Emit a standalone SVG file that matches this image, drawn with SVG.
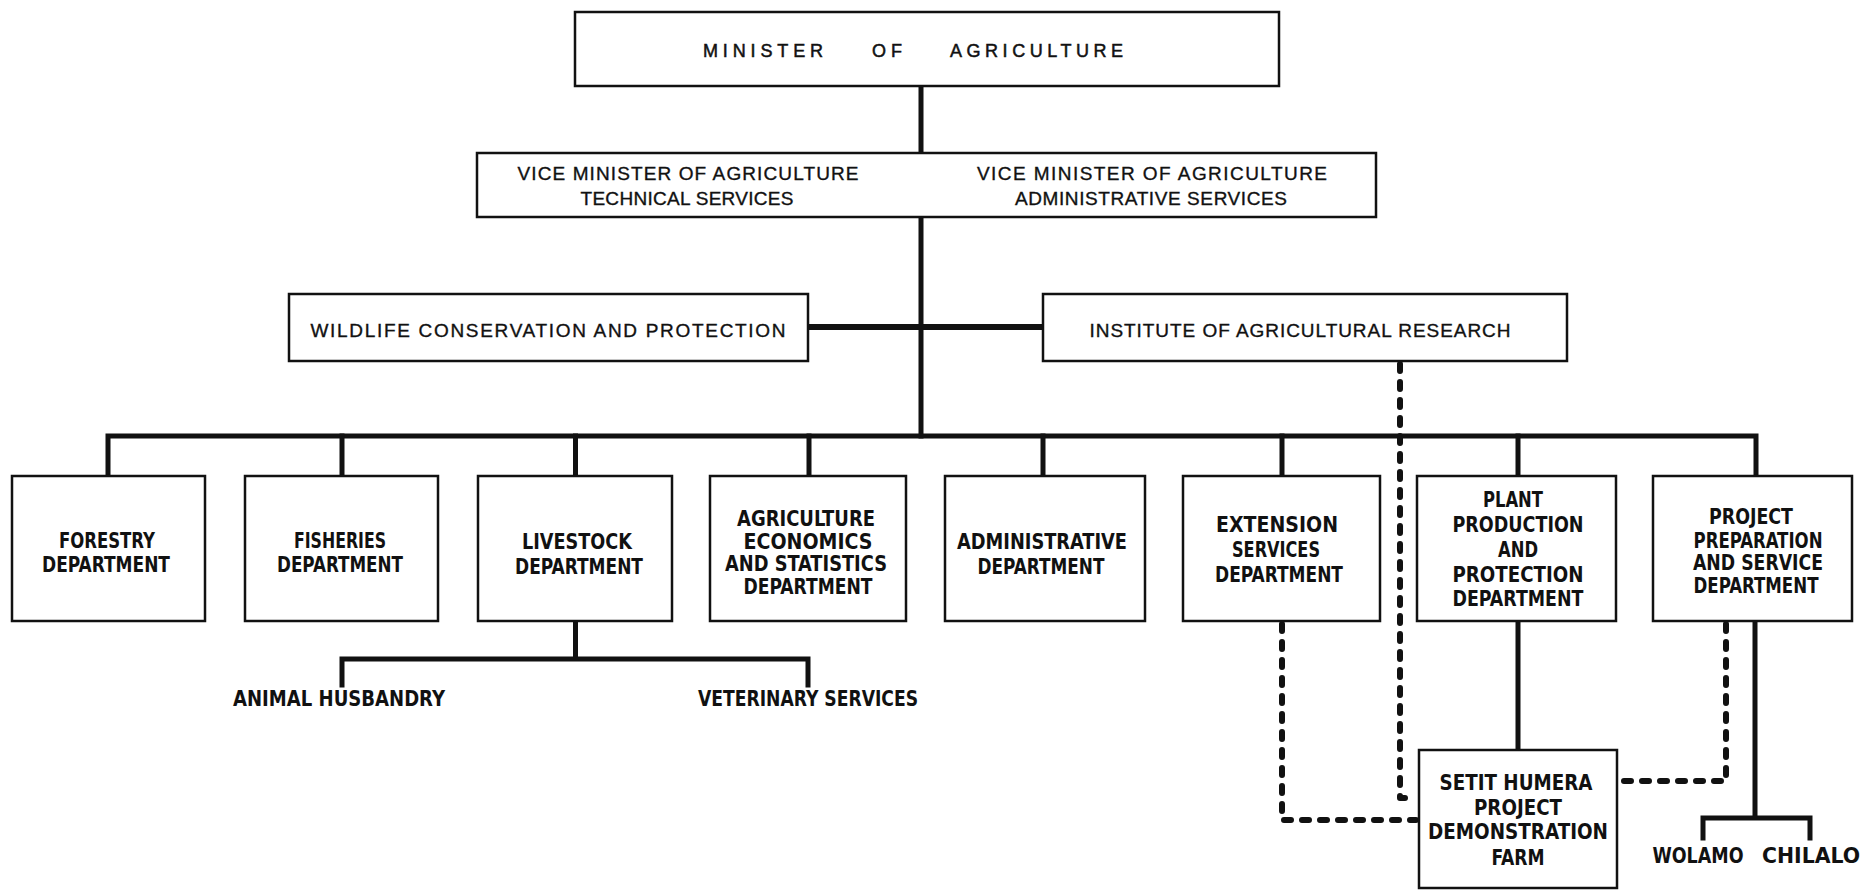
<svg xmlns="http://www.w3.org/2000/svg" width="1864" height="891" viewBox="0 0 1864 891">
<style>
.bx{fill:#fff;stroke:#111;stroke-width:2.5}
.t1{font-family:"Liberation Sans",Arial,sans-serif;font-size:19px;fill:#111;stroke:#111;stroke-width:0.35;text-anchor:middle}
.t0{font-family:"Liberation Sans",Arial,sans-serif;font-size:18px;fill:#111;stroke:#111;stroke-width:0.5;text-anchor:start}
.t2{font-family:"Liberation Sans Narrow","DejaVu Sans Condensed","Liberation Sans",Arial,sans-serif;font-weight:bold;font-size:21px;fill:#111;text-anchor:middle}
.c{fill:none;stroke:#111;stroke-width:5;stroke-linejoin:miter;stroke-linecap:square}
.d{fill:none;stroke:#111;stroke-width:6;stroke-dasharray:7 11;stroke-linecap:round;stroke-linejoin:round}
.dv{fill:none;stroke:#111;stroke-width:3;stroke-dasharray:8 4}
</style>
<rect width="1864" height="891" fill="#fff"/>
<g id="connectors">
<path class="c" d="M921 86V152M921 218V436"/>
<path class="dv" d="M921 152V218"/>
<path class="c" d="M810 327H1043" style="stroke-width:6"/>
<path class="c" d="M108 476V436H1756V476"/>
<path class="c" d="M342 436V476M575.5 436V476M809 436V476M1043 436V476M1282 436V476M1518 436V476"/>
<path class="c" d="M575.5 621V659M342 685V659H808V685"/>
<path class="c" d="M1518 621V750"/>
<path class="c" d="M1755 621V818M1703 838V818H1810V838"/>
<path class="d" d="M1400 364V798H1416"/>
<path class="d" d="M1282 624V820H1416"/>
<path class="d" d="M1726 624V781H1619"/>
</g>
<g id="minister">
<rect class="bx" x="575" y="12" width="704" height="74"/>
<text class="t0" x="703" y="57" textLength="120" lengthAdjust="spacing">MINISTER</text>
<text class="t0" x="872" y="57" textLength="30" lengthAdjust="spacing">OF</text>
<text class="t0" x="950" y="57" textLength="173" lengthAdjust="spacing">AGRICULTURE</text>
</g>
<g id="vice">
<rect class="bx" x="477" y="153" width="899" height="64"/>
<text class="t1" x="688" y="180" textLength="341" lengthAdjust="spacing">VICE MINISTER OF AGRICULTURE</text>
<text class="t1" x="687" y="205" textLength="213" lengthAdjust="spacing">TECHNICAL SERVICES</text>
<text class="t1" x="1152" y="180" textLength="350" lengthAdjust="spacing">VICE MINISTER OF AGRICULTURE</text>
<text class="t1" x="1151" y="205" textLength="272" lengthAdjust="spacing">ADMINISTRATIVE SERVICES</text>
</g>
<g id="wildlife">
<rect class="bx" x="289" y="294" width="519" height="67"/>
<text class="t1" x="548" y="337" textLength="475" lengthAdjust="spacing">WILDLIFE CONSERVATION AND PROTECTION</text>
</g>
<g id="institute">
<rect class="bx" x="1043" y="294" width="524" height="67"/>
<text class="t1" x="1300" y="337" textLength="421" lengthAdjust="spacing">INSTITUTE OF AGRICULTURAL RESEARCH</text>
</g>
<g id="forestry">
<rect class="bx" x="12" y="476" width="193" height="145"/>
<text class="t2" x="107" y="548" textLength="96" lengthAdjust="spacingAndGlyphs">FORESTRY</text>
<text class="t2" x="106" y="572" textLength="128" lengthAdjust="spacingAndGlyphs">DEPARTMENT</text>
</g>
<g id="fisheries">
<rect class="bx" x="245" y="476" width="193" height="145"/>
<text class="t2" x="340" y="548" textLength="92" lengthAdjust="spacingAndGlyphs">FISHERIES</text>
<text class="t2" x="340" y="572" textLength="126" lengthAdjust="spacingAndGlyphs">DEPARTMENT</text>
</g>
<g id="livestock">
<rect class="bx" x="478" y="476" width="194" height="145"/>
<text class="t2" x="577" y="549" textLength="110" lengthAdjust="spacingAndGlyphs">LIVESTOCK</text>
<text class="t2" x="579" y="574" textLength="128" lengthAdjust="spacingAndGlyphs">DEPARTMENT</text>
</g>
<g id="agri-econ">
<rect class="bx" x="710" y="476" width="196" height="145"/>
<text class="t2" x="806" y="526" textLength="138" lengthAdjust="spacingAndGlyphs">AGRICULTURE</text>
<text class="t2" x="808" y="549" textLength="129" lengthAdjust="spacingAndGlyphs">ECONOMICS</text>
<text class="t2" x="806" y="571" textLength="162" lengthAdjust="spacingAndGlyphs">AND STATISTICS</text>
<text class="t2" x="808" y="594" textLength="129" lengthAdjust="spacingAndGlyphs">DEPARTMENT</text>
</g>
<g id="administrative">
<rect class="bx" x="945" y="476" width="200" height="145"/>
<text class="t2" x="1042" y="549" textLength="170" lengthAdjust="spacingAndGlyphs">ADMINISTRATIVE</text>
<text class="t2" x="1041" y="574" textLength="127" lengthAdjust="spacingAndGlyphs">DEPARTMENT</text>
</g>
<g id="extension">
<rect class="bx" x="1183" y="476" width="197" height="145"/>
<text class="t2" x="1277" y="532" textLength="122" lengthAdjust="spacingAndGlyphs">EXTENSION</text>
<text class="t2" x="1276" y="557" textLength="88" lengthAdjust="spacingAndGlyphs">SERVICES</text>
<text class="t2" x="1279" y="582" textLength="128" lengthAdjust="spacingAndGlyphs">DEPARTMENT</text>
</g>
<g id="plant">
<rect class="bx" x="1417" y="476" width="199" height="145"/>
<text class="t2" x="1513" y="507" textLength="60" lengthAdjust="spacingAndGlyphs">PLANT</text>
<text class="t2" x="1518" y="532" textLength="131" lengthAdjust="spacingAndGlyphs">PRODUCTION</text>
<text class="t2" x="1518" y="557" textLength="40" lengthAdjust="spacingAndGlyphs">AND</text>
<text class="t2" x="1518" y="582" textLength="131" lengthAdjust="spacingAndGlyphs">PROTECTION</text>
<text class="t2" x="1518" y="606" textLength="131" lengthAdjust="spacingAndGlyphs">DEPARTMENT</text>
</g>
<g id="project">
<rect class="bx" x="1653" y="476" width="199" height="145"/>
<text class="t2" x="1751" y="524" textLength="84" lengthAdjust="spacingAndGlyphs">PROJECT</text>
<text class="t2" x="1758" y="548" textLength="129" lengthAdjust="spacingAndGlyphs">PREPARATION</text>
<text class="t2" x="1758" y="570" textLength="130" lengthAdjust="spacingAndGlyphs">AND SERVICE</text>
<text class="t2" x="1756" y="593" textLength="125" lengthAdjust="spacingAndGlyphs">DEPARTMENT</text>
</g>
<g id="animal-husbandry">
<text class="t2" x="339" y="706" textLength="212" lengthAdjust="spacingAndGlyphs">ANIMAL HUSBANDRY</text>
</g>
<g id="veterinary">
<text class="t2" x="808" y="706" textLength="220" lengthAdjust="spacingAndGlyphs">VETERINARY SERVICES</text>
</g>
<g id="setit-humera">
<rect class="bx" x="1419" y="750" width="198" height="138"/>
<text class="t2" x="1516" y="790" textLength="153" lengthAdjust="spacingAndGlyphs">SETIT HUMERA</text>
<text class="t2" x="1518" y="815" textLength="88" lengthAdjust="spacingAndGlyphs">PROJECT</text>
<text class="t2" x="1518" y="839" textLength="180" lengthAdjust="spacingAndGlyphs">DEMONSTRATION</text>
<text class="t2" x="1518" y="865" textLength="53" lengthAdjust="spacingAndGlyphs">FARM</text>
</g>
<g id="wolamo">
<text class="t2" x="1698" y="863" textLength="91" lengthAdjust="spacingAndGlyphs">WOLAMO</text>
</g>
<g id="chilalo">
<text class="t2" x="1811" y="863" textLength="98" lengthAdjust="spacingAndGlyphs">CHILALO</text>
</g>
</svg>
